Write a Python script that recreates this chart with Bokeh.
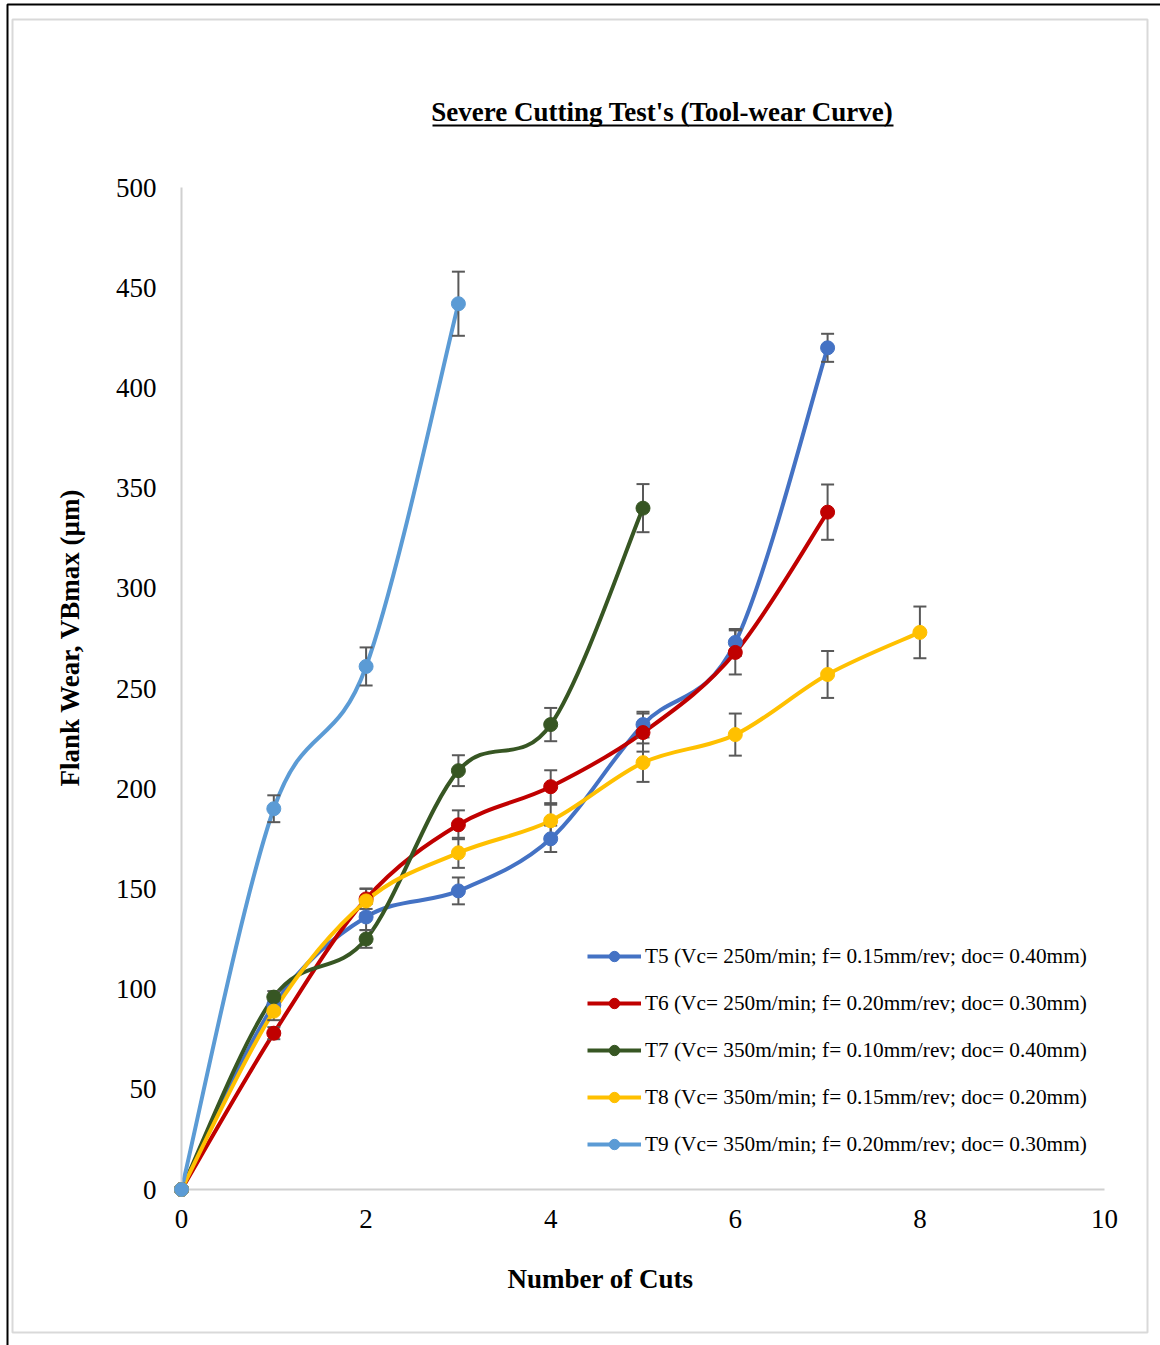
import math
from bokeh.plotting import figure
from bokeh.models import (Range1d, FixedTicker, Whisker, TeeHead, ColumnDataSource,
                          Legend, LegendItem, Label, BoxAnnotation)
from bokeh.embed import file_html
from bokeh.resources import INLINE

# ---------------- data ----------------
title_text = "Severe Cutting Test's (Tool-wear Curve)"
x_label = "Number of Cuts"
y_label = "Flank Wear, VBmax (\u00b5m)"
x_ticks = [0, 2, 4, 6, 8, 10]
y_ticks = [0, 50, 100, 150, 200, 250, 300, 350, 400, 450, 500]

t5_x = [0, 1, 2, 3, 4, 5, 6, 7]
t5_y = [0, 92, 136, 149, 175, 232, 273, 420]
t5_err = [0, 4, 6.5, 6.7, 6.6, 6.4, 6.7, 7]

t6_x = [0, 1, 2, 3, 4, 5, 6, 7]
t6_y = [0, 78, 145, 182, 201, 228, 268, 338]
t6_err = [0, 3, 5, 7.2, 8.2, 9.5, 11, 13.8]

t7_x = [0, 1, 2, 3, 4, 5]
t7_y = [0, 96, 125, 209, 232, 340]
t7_err = [0, 3, 4.4, 7.7, 8.3, 12]

t8_x = [0, 1, 2, 3, 4, 5, 6, 7, 8]
t8_y = [0, 89, 144, 168, 184, 213, 227, 257, 278]
t8_err = [0, 4.5, 6.2, 7.5, 8, 9.6, 10.5, 11.7, 12.9]

t9_x = [0, 1, 2, 3]
t9_y = [0, 190, 261, 442]
t9_err = [0, 6.7, 9.5, 16]

labels = [
    "T5 (Vc= 250m/min; f= 0.15mm/rev; doc= 0.40mm)",
    "T6 (Vc= 250m/min; f= 0.20mm/rev; doc= 0.30mm)",
    "T7 (Vc= 350m/min; f= 0.10mm/rev; doc= 0.40mm)",
    "T8 (Vc= 350m/min; f= 0.15mm/rev; doc= 0.20mm)",
    "T9 (Vc= 350m/min; f= 0.20mm/rev; doc= 0.30mm)",
]
colors = ["#4472C4", "#C00000", "#375623", "#FFC000", "#5B9BD5"]

series = [
    (t5_x, t5_y, t5_err),
    (t6_x, t6_y, t6_err),
    (t7_x, t7_y, t7_err),
    (t8_x, t8_y, t8_err),
    (t9_x, t9_y, t9_err),
]

SERIF = "Liberation Serif"


def smooth_segments(xs, ys):
    """Bezier control points (Catmull-Rom style, like a spreadsheet's smoothed line)."""
    n = len(xs)
    d = dict(x0=[], y0=[], x1=[], y1=[], cx0=[], cy0=[], cx1=[], cy1=[])
    for i in range(n - 1):
        i0 = max(i - 1, 0)
        i3 = min(i + 2, n - 1)
        d["x0"].append(xs[i]); d["y0"].append(ys[i])
        d["x1"].append(xs[i + 1]); d["y1"].append(ys[i + 1])
        d["cx0"].append(xs[i] + (xs[i + 1] - xs[i0]) / 6.0)
        d["cy0"].append(ys[i] + (ys[i + 1] - ys[i0]) / 6.0)
        d["cx1"].append(xs[i + 1] - (xs[i3] - xs[i]) / 6.0)
        d["cy1"].append(ys[i + 1] - (ys[i3] - ys[i]) / 6.0)
    return d


# ---------------- layout geometry (pixels) ----------------
W, H = 1160, 1345
X0_PX, X10_PX = 181, 1104       # pixel of x=0 and x=10
Y0_PX, Y500_PX = 1189, 187      # pixel of y=0 and y=500
sx = (X10_PX - X0_PX) / 10.0
sy = (Y0_PX - Y500_PX) / 500.0

p = figure(width=W, height=H, output_backend="svg", toolbar_location=None,
           x_range=Range1d(-X0_PX / sx, 10 + (W - X10_PX) / sx),
           y_range=Range1d(-(H - Y0_PX) / sy, 500 + Y500_PX / sy),
           min_border=0, min_border_left=0, min_border_right=0,
           min_border_top=0, min_border_bottom=0)
p.outline_line_color = None
p.xgrid.visible = False
p.ygrid.visible = False
p.background_fill_color = "white"
p.border_fill_color = "white"

for ax, ticks, bounds in ((p.xaxis[0], x_ticks, (0, 10)), (p.yaxis[0], y_ticks, (0, 500))):
    ax.ticker = FixedTicker(ticks=ticks)
    ax.fixed_location = 0
    ax.bounds = bounds
    ax.axis_line_color = "#D0D0D0"
    ax.axis_line_width = 2
    ax.major_tick_line_color = None
    ax.minor_tick_line_color = None
    ax.major_label_text_font = SERIF
    ax.major_label_text_font_size = "27px"
    ax.major_label_text_color = "black"

p.xaxis.major_label_standoff = 14
p.yaxis.major_label_standoff = 19

# axis titles (placed like the original, offset from the axis centres)
p.add_layout(Label(x=600, y=H - 1278, x_units="screen", y_units="screen",
                   text=x_label, text_font=SERIF, text_font_size="27px",
                   text_font_style="bold", text_align="center",
                   text_baseline="middle", text_color="black"))
p.add_layout(Label(x=69, y=H - 637, x_units="screen", y_units="screen",
                   text=y_label, angle=math.pi / 2, text_font=SERIF,
                   text_font_size="27px", text_font_style="bold",
                   text_align="center", text_baseline="middle", text_color="black"))

curve_renderers = []
for (xs, ys, errs), col in zip(series, colors):
    seg = smooth_segments(xs, ys)
    r = p.bezier(source=ColumnDataSource(seg), x0="x0", y0="y0", x1="x1", y1="y1",
                 cx0="cx0", cy0="cy0", cx1="cx1", cy1="cy1",
                 line_color=col, line_width=4)
    curve_renderers.append(r)

for (xs, ys, errs) in series:
    ex = [x for x, e in zip(xs, errs) if e > 0]
    eu = [y + e for y, e in zip(ys, errs) if e > 0]
    el = [y - e for y, e in zip(ys, errs) if e > 0]
    wsrc = ColumnDataSource(dict(base=ex, upper=eu, lower=el))
    w = Whisker(source=wsrc, base="base", upper="upper", lower="lower",
                line_color="#595959", line_width=2, level="annotation",
                upper_head=TeeHead(size=13, line_color="#595959", line_width=2),
                lower_head=TeeHead(size=13, line_color="#595959", line_width=2))
    p.add_layout(w)

items = []
for (xs, ys, errs), col, lab, cr in zip(series, colors, labels, curve_renderers):
    sr = p.scatter(xs, ys, size=14, fill_color=col, line_color=col, level="overlay")
    items.append(LegendItem(label=lab, renderers=[cr, sr]))

legend = Legend(items=items, location=(587, H - 1157), border_line_alpha=0,
                background_fill_alpha=0, label_text_font=SERIF,
                label_text_font_size="21.3px", label_text_color="black",
                glyph_width=54, glyph_height=26, label_height=26,
                spacing=21, padding=0, margin=0, label_standoff=4)
p.add_layout(legend)

# title with underline (screen units: frame == canvas, y measured upward)
p.add_layout(Label(x=662, y=H - 111, x_units="screen", y_units="screen",
                   text=title_text, text_font=SERIF, text_font_size="27px",
                   text_font_style="bold", text_align="center",
                   text_baseline="middle", text_color="black"))
p.add_layout(BoxAnnotation(left=432, right=893, top=H - 124, bottom=H - 126,
                           left_units="screen", right_units="screen",
                           top_units="screen", bottom_units="screen",
                           fill_color="black", fill_alpha=1, line_alpha=0))
# chart-area border (light grey) and outer black border
p.add_layout(BoxAnnotation(left=12, right=1147, top=H - 19, bottom=H - 1332,
                           left_units="screen", right_units="screen",
                           top_units="screen", bottom_units="screen",
                           fill_alpha=0, line_color="#D9D9D9", line_alpha=1,
                           line_width=2))
p.add_layout(BoxAnnotation(left=7, right=W + 40, top=H - 4, bottom=-40,
                           left_units="screen", right_units="screen",
                           top_units="screen", bottom_units="screen",
                           fill_alpha=0, line_color="black", line_alpha=1,
                           line_width=2))

open("out.html", "w").write(file_html(p, INLINE))
